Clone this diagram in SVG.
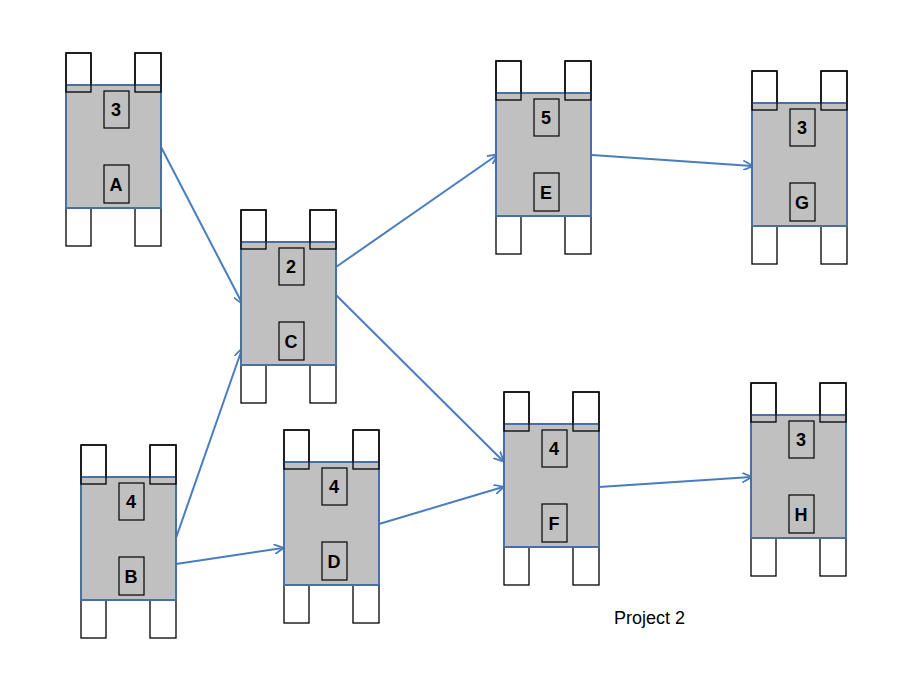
<svg xmlns="http://www.w3.org/2000/svg" xmlns:xlink="http://www.w3.org/1999/xlink" width="922" height="680" viewBox="0 0 922 680">
<style>
.tab{fill:#fff;stroke:#000;stroke-width:1.3}
.body{fill:#c0c0c0;stroke:#4a6fa5;stroke-width:2}
.in{fill:#c0c0c0;stroke:#000;stroke-width:1.2}
.t{font-family:"Liberation Sans",Arial,sans-serif;font-weight:bold;font-size:18px;text-anchor:middle}
.c{stroke:#4a7cc0;stroke-width:2;fill:none;marker-end:url(#ah)}
</style>
<defs>
<marker id="ah" viewBox="0 0 10 10" refX="9" refY="5" markerWidth="10" markerHeight="10" markerUnits="userSpaceOnUse" orient="auto"><path d="M0,0 L10,5 L0,10" fill="none" stroke="#4a7cc0" stroke-width="1.8"/></marker>
<g id="n">
<rect class="tab" x="0" y="-32" width="25" height="39"/>
<rect class="tab" x="69" y="-32" width="26" height="39"/>
<rect class="tab" x="0" y="123" width="25" height="38"/>
<rect class="tab" x="69" y="123" width="26" height="38"/>
<rect class="body" x="0" y="0" width="95" height="123"/>
<rect class="tab" x="0" y="-32" width="25" height="39" style="fill:none"/>
<rect class="tab" x="69" y="-32" width="26" height="39" style="fill:none"/>
<rect class="in" x="38" y="6" width="25" height="37"/>
<rect class="in" x="38" y="80" width="25" height="38"/>
</g>
</defs>
<rect width="922" height="680" fill="#fff"/>
<g id="connectors">
<line class="c" x1="161" y1="147" x2="242" y2="303"/>
<line class="c" x1="176" y1="538" x2="242" y2="349"/>
<line class="c" x1="176" y1="564" x2="283" y2="548"/>
<line class="c" x1="336" y1="267" x2="497" y2="155"/>
<line class="c" x1="336" y1="295" x2="503" y2="461"/>
<line class="c" x1="379" y1="524" x2="503" y2="487"/>
<line class="c" x1="592" y1="155" x2="752" y2="166"/>
<line class="c" x1="599" y1="487" x2="751" y2="477"/>
</g>
<g id="A" transform="translate(66,85)"><use xlink:href="#n"/><text class="t" x="50" y="31">3</text><text class="t" x="50" y="106">A</text></g>
<g id="B" transform="translate(81,477)"><use xlink:href="#n"/><text class="t" x="50" y="31">4</text><text class="t" x="50" y="106">B</text></g>
<g id="C" transform="translate(241,242)"><use xlink:href="#n"/><text class="t" x="50" y="31">2</text><text class="t" x="50" y="106">C</text></g>
<g id="D" transform="translate(284,462)"><use xlink:href="#n"/><text class="t" x="50" y="31">4</text><text class="t" x="50" y="106">D</text></g>
<g id="E" transform="translate(496,93)"><use xlink:href="#n"/><text class="t" x="50" y="31">5</text><text class="t" x="50" y="106">E</text></g>
<g id="F" transform="translate(504,424)"><use xlink:href="#n"/><text class="t" x="50" y="31">4</text><text class="t" x="50" y="106">F</text></g>
<g id="G" transform="translate(752,103)"><use xlink:href="#n"/><text class="t" x="50" y="31">3</text><text class="t" x="50" y="106">G</text></g>
<g id="H" transform="translate(751,415)"><use xlink:href="#n"/><text class="t" x="50" y="31">3</text><text class="t" x="50" y="106">H</text></g>
<text x="614" y="624" font-family="Liberation Sans,Arial,sans-serif" font-size="18">Project 2</text>
</svg>
